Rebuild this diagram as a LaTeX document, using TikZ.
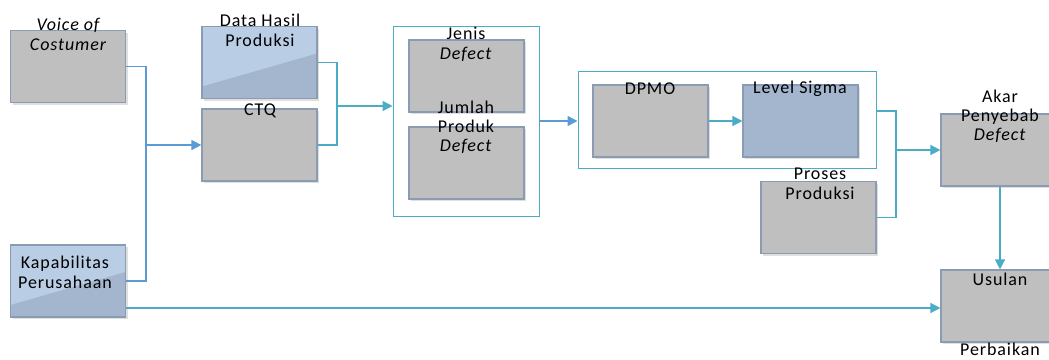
\documentclass[tikz,border=0pt]{standalone}
\usepackage{fontspec}
\setmainfont{Carlito}[LetterSpace=5]
\usetikzlibrary{arrows.meta,positioning,shadows}

\definecolor{boxgray}{HTML}{BFBFBF}
\definecolor{boxedge}{HTML}{8A9BB4}
\definecolor{lightblue}{HTML}{B9CDE5}
\definecolor{darkblue}{HTML}{A3B6CD}
\definecolor{linkblue}{HTML}{5B9BD5}
\definecolor{linkcyan}{HTML}{4BACC6}

\tikzset{
	box/.style={draw=boxedge, fill=boxgray, line width=1.2pt, minimum width=115pt,
		minimum height=72pt, inner sep=0pt,
		drop shadow={shadow xshift=2pt, shadow yshift=-2pt, opacity=.25}},
	bluebox/.style={box, fill=lightblue, path picture={
		\fill[darkblue] (path picture bounding box.south west) -- ++(0,-12)
			-- ([yshift=-27pt]path picture bounding box.north east)
			-- (path picture bounding box.south east) -- cycle;}},
	group/.style={draw=linkcyan, fill=white, line width=1pt, inner sep=0pt},
	txt/.style={font=\fontsize{18}{20}\selectfont, align=center, inner sep=0pt},
	link/.style={draw=linkcyan, line width=1.5pt},
	blink/.style={draw=linkblue, line width=1.5pt},
	arr/.style={-{Triangle[length=10pt,width=10pt]}}
}

\begin{document}
\begin{tikzpicture}[x=1pt,y=-1pt]
	\useasboundingbox (0,0) rectangle (1049,359);
	% groups
	\node[group, minimum width=146pt, minimum height=190pt] (grpdef) at (466,121) {};
	\node[group, minimum width=298pt, minimum height=97pt] (grpsig) at (727,119.5) {};
	% boxes
	\node[box] (voc) at (68,66.5) {};
	\node[bluebox] (data) at (259.5,62.5) {};
	\node[box] (ctq) at (259.5,145) {};
	\node[bluebox] (kap) at (68,281) {};
	\node[box] (jenis) at (466.5,76) {};
	\node[box] (jumlah) at (466.5,163) {};
	\node[box] (dpmo) at (650.5,121) {};
	\node[box, fill=darkblue] (sigma) at (800.5,121) {};
	\node[box] (proses) at (818.5,217.5) {};
	\node[box] (akar) at (998.5,150) {};
	\node[box] (usulan) at (998.5,306) {};
	% junctions
	\coordinate (jctq) at (146,145);
	\coordinate (jdef) at (337,106);
	\coordinate (jakar) at (896,150);
	% connectors
	\draw[blink] (voc.east) -| (jctq) |- (kap.east);
	\draw[blink, arr] (jctq) -- (ctq.west);
	\draw[link] (data.east) -| (jdef) |- (ctq.east);
	\draw[link, arr] (jdef) -- (grpdef.west |- jdef);
	\draw[blink, arr] (grpdef.east) -- (grpdef.east -| grpsig.west);
	\draw[link, arr] (dpmo.east) -- (sigma.west);
	\draw[link] (grpsig.east |- 0,111) -| (jakar) |- (proses.east);
	\draw[link, arr] (jakar) -- (akar.west);
	\draw[link, arr] (akar.south -| 1000,0) -- (usulan.north -| 1000,0);
	\draw[link, arr] (kap.east |- 0,308) -- (usulan.west |- 0,308);
	% labels
	\node[txt, font=\fontsize{18}{20}\selectfont\itshape] (voct) at (68,34) {Voice of\\Costumer};
	\node[txt] (datat) at (260,30) {Data Hasil\\Produksi};
	\node[txt] (ctqt) at (260,111) {CTQ};
	\node[txt] (kapt) at (65,272) {Kapabilitas\\Perusahaan};
	\node[txt] (jenist) at (466,44) {Jenis\\\textit{Defect}};
	\node[txt, font=\fontsize{18}{19}\selectfont] (jumlaht) at (466,127) {Jumlah\\Produk\\\textit{Defect}};
	\node[txt] (dpmot) at (650,89) {DPMO};
	\node[txt] (sigmat) at (800,89) {Level Sigma};
	\node[txt] (prosest) at (820,184) {Proses\\Produksi};
	\node[txt, font=\fontsize{18}{19}\selectfont] (akart) at (1000,116) {Akar\\Penyebab\\\textit{Defect}};
	\node[txt] (usulant) at (1000,279) {Usulan};
	\node[txt] (perbaikant) at (1000,349) {Perbaikan};
\end{tikzpicture}
\end{document}
